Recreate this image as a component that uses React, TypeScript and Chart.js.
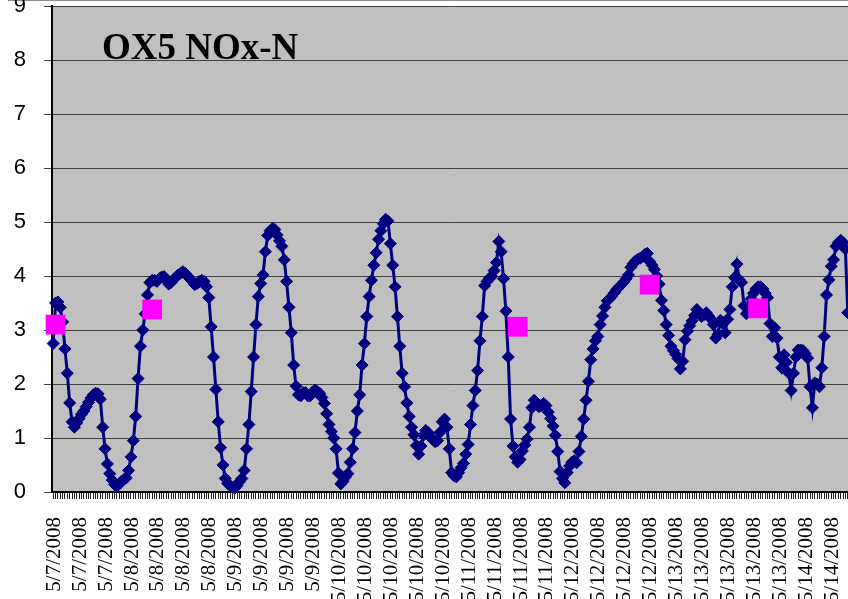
import React, { useEffect, useRef } from 'react';
import { Chart, registerables } from 'chart.js';

Chart.register(...registerables);

const tickLabels: string[] = [
  '5/7/2008', '5/7/2008', '5/7/2008',
  '5/8/2008', '5/8/2008', '5/8/2008', '5/8/2008',
  '5/9/2008', '5/9/2008', '5/9/2008', '5/9/2008',
  '5/10/2008', '5/10/2008', '5/10/2008', '5/10/2008', '5/10/2008',
  '5/11/2008', '5/11/2008', '5/11/2008', '5/11/2008',
  '5/12/2008', '5/12/2008', '5/12/2008', '5/12/2008',
  '5/13/2008', '5/13/2008', '5/13/2008', '5/13/2008', '5/13/2008',
  '5/14/2008', '5/14/2008',
];

const pointsPerLabel = 11;

const noxValues: number[] = [
  2.75, 3.5, 3.52, 3.42, 3.15, 2.65, 2.2, 1.65, 1.3, 1.2,
  1.28, 1.36, 1.44, 1.5, 1.58, 1.66, 1.74, 1.8, 1.83, 1.82,
  1.72, 1.2, 0.8, 0.52, 0.34, 0.22, 0.14, 0.1, 0.15, 0.2,
  0.23, 0.26, 0.4, 0.65, 0.95, 1.4, 2.1, 2.7, 3.0, 3.3,
  3.65, 3.88, 3.92, 3.92, 3.9, 3.95, 3.98, 3.99, 3.92, 3.85,
  3.88, 3.93, 3.98, 4.02, 4.05, 4.08, 4.05, 4.0, 3.95, 3.9,
  3.84, 3.86, 3.9, 3.92, 3.9, 3.8, 3.6, 3.06, 2.5, 1.9,
  1.3, 0.82, 0.5, 0.25, 0.16, 0.12, 0.09, 0.07, 0.12, 0.19,
  0.25, 0.4, 0.8, 1.25, 1.86, 2.5, 3.1, 3.62, 3.86, 4.02,
  4.45, 4.75, 4.84, 4.88, 4.86, 4.76, 4.65, 4.55, 4.3, 3.9,
  3.42, 2.95, 2.35, 1.96, 1.8, 1.78, 1.84, 1.84, 1.78, 1.78,
  1.85, 1.89, 1.86, 1.83, 1.75, 1.64, 1.45, 1.25, 1.12, 1.0,
  0.8, 0.35, 0.15, 0.2, 0.28, 0.34, 0.55, 0.8, 1.1, 1.5,
  1.8, 2.35, 2.75, 3.25, 3.62, 3.92, 4.2, 4.43, 4.68, 4.84,
  4.97, 5.05, 5.02, 4.6, 4.2, 3.8, 3.25, 2.7, 2.2, 1.95,
  1.65, 1.4, 1.2, 1.06, 0.86, 0.7, 0.85, 1.05, 1.14, 1.1,
  1.02, 0.97, 0.93, 0.95, 1.1, 1.3, 1.35, 1.2, 0.8, 0.36,
  0.3, 0.28, 0.36, 0.45, 0.53, 0.7, 0.88, 1.25, 1.6, 1.88,
  2.25, 2.8, 3.25, 3.82, 3.9, 3.96, 3.99, 4.1, 4.25, 4.64,
  4.45, 3.95, 3.35, 2.5, 1.35, 0.85, 0.65, 0.55, 0.6, 0.76,
  0.87, 0.98, 1.2, 1.56, 1.7, 1.65, 1.58, 1.6, 1.64, 1.6,
  1.48, 1.36, 1.22, 1.05, 0.75, 0.38, 0.25, 0.17, 0.36, 0.48,
  0.55, 0.58, 0.54, 0.75, 1.03, 1.35, 1.7, 2.05, 2.45, 2.65,
  2.8, 2.88, 3.1, 3.26, 3.42, 3.54, 3.58, 3.63, 3.69, 3.75,
  3.8, 3.84, 3.89, 3.95, 4.02, 4.16, 4.23, 4.28, 4.31, 4.33,
  4.36, 4.4, 4.42, 4.27, 4.2, 4.12, 4.0, 3.85, 3.55, 3.36,
  3.1, 2.9, 2.7, 2.62, 2.55, 2.47, 2.28, 2.42, 2.82, 2.98,
  3.08, 3.17, 3.27, 3.38, 3.3, 3.25, 3.28, 3.32, 3.26, 3.2,
  3.1, 2.85, 2.92, 3.18, 3.12, 2.95, 3.2, 3.38, 3.8, 3.97,
  4.22, 3.93, 3.88, 3.45, 3.3, 3.42, 3.58, 3.68, 3.76, 3.8,
  3.8, 3.76, 3.68, 3.6, 3.12, 2.88, 3.04, 2.85, 2.5, 2.3,
  2.54, 2.4, 2.2, 1.88, 2.2, 2.5, 2.63, 2.63, 2.62, 2.56,
  2.48, 1.95, 1.56, 2.02, 2.0, 1.95, 2.3, 2.88, 3.65, 3.93,
  4.18, 4.3, 4.55, 4.62, 4.66, 4.62, 4.5, 3.32,
];

const sampleIndices: number[] = [1, 42, 197, 253, 299];
const sampleValues: number[] = [3.1, 3.38, 3.06, 3.84, 3.4];

const titleText = 'OX5 NOx-N';

export default function App() {
  const ref = useRef<HTMLCanvasElement>(null);

  useEffect(() => {
    if (!ref.current) return;
    const categories: string[] = [];
    tickLabels.forEach((l) => {
      for (let k = 0; k < pointsPerLabel; k++) categories.push(l);
    });
    const samples: (number | null)[] = categories.map(() => null);
    sampleIndices.forEach((idx, j) => {
      samples[idx] = sampleValues[j];
    });

    const bgPlugin = {
      id: 'plotBg',
      beforeDraw(chart: any) {
        const { ctx, chartArea: a } = chart;
        ctx.save();
        ctx.fillStyle = '#C0C0C0';
        ctx.fillRect(a.left, a.top, a.right - a.left, a.bottom - a.top);
        ctx.fillStyle = '#8c8c8c';
        ctx.fillRect(8, a.top - 7, chart.width, 2);
        ctx.restore();
      },
    };
    const titlePlugin = {
      id: 'innerTitle',
      afterDraw(chart: any) {
        const { ctx, chartArea: a } = chart;
        ctx.save();
        ctx.font = 'bold 37px "Liberation Serif", "Times New Roman", serif';
        ctx.fillStyle = '#000';
        ctx.textBaseline = 'alphabetic';
        ctx.textAlign = 'left';
        ctx.fillText(titleText, a.left + 50, a.top + 53);
        ctx.restore();
      },
    };

    const chart = new Chart(ref.current, {
      type: 'line',
      data: {
        labels: categories,
        datasets: [
          {
            label: 'Samples',
            data: samples,
            showLine: false,
            pointStyle: 'rect',
            pointRadius: 14,
            pointBackgroundColor: '#FF00FF',
            pointBorderColor: '#FF00FF',
            pointBorderWidth: 0,
            borderColor: '#FF00FF',
            backgroundColor: '#FF00FF',
            clip: false,
          },
          {
            label: 'NOx-N',
            data: noxValues,
            borderColor: '#000080',
            backgroundColor: '#000080',
            borderWidth: 3,
            pointStyle: 'rectRot',
            pointRadius: 6,
            pointBorderWidth: 1,
            pointBackgroundColor: '#000080',
            pointBorderColor: '#000080',
            tension: 0,
            clip: false,
          },
        ],
      },
      options: {
        responsive: false,
        animation: false,
        devicePixelRatio: 1,
        layout: { padding: { top: 7, left: 0, right: 6, bottom: 0 } },
        plugins: {
          legend: { display: false },
          tooltip: { enabled: false },
          title: { display: false },
        },
        scales: {
          x: {
            type: 'category',
            offset: true,
            grid: {
              display: true,
              drawOnChartArea: false,
              drawTicks: true,
              tickLength: 7,
              color: '#222',
              lineWidth: 1,
              offset: false,
            },
            border: { display: true, color: '#000', width: 2 },
            ticks: {
              autoSkip: false,
              maxRotation: 90,
              minRotation: 90,
              padding: 18,
              labelOffset: 1,
              color: '#000',
              font: { family: '"Liberation Serif", "Times New Roman", serif', size: 21 },
              callback: (_v: any, idx: number) =>
                idx % pointsPerLabel === 0 ? tickLabels[idx / pointsPerLabel] : '',
            },
            afterFit: (scale: any) => {
              scale.height = 107;
              scale.paddingLeft = 0;
              scale.paddingRight = 0;
            },
          },
          y: {
            min: 0,
            max: 9,
            grid: {
              color: '#404040',
              lineWidth: 1,
              tickLength: 8,
              drawTicks: true,
            },
            border: { display: true, color: '#000', width: 2 },
            ticks: {
              stepSize: 1,
              padding: 18,
              color: '#000',
              font: { family: '"Liberation Sans", Arial, sans-serif', size: 22 },
            },
            afterFit: (scale: any) => {
              scale.width = 52;
              scale.paddingTop = 0;
              scale.paddingBottom = 0;
            },
          },
        },
      },
      plugins: [bgPlugin, titlePlugin],
    });

    return () => chart.destroy();
  }, []);

  return (
    <div
      style={{
        position: 'fixed',
        left: 0,
        top: 0,
        width: 848,
        height: 599,
        overflow: 'hidden',
        background: '#fff',
      }}
    >
      <canvas
        ref={ref}
        width={870}
        height={607}
        style={{ display: 'block', position: 'absolute', left: 0, top: -8, width: 870, height: 607 }}
      />
    </div>
  );
}
